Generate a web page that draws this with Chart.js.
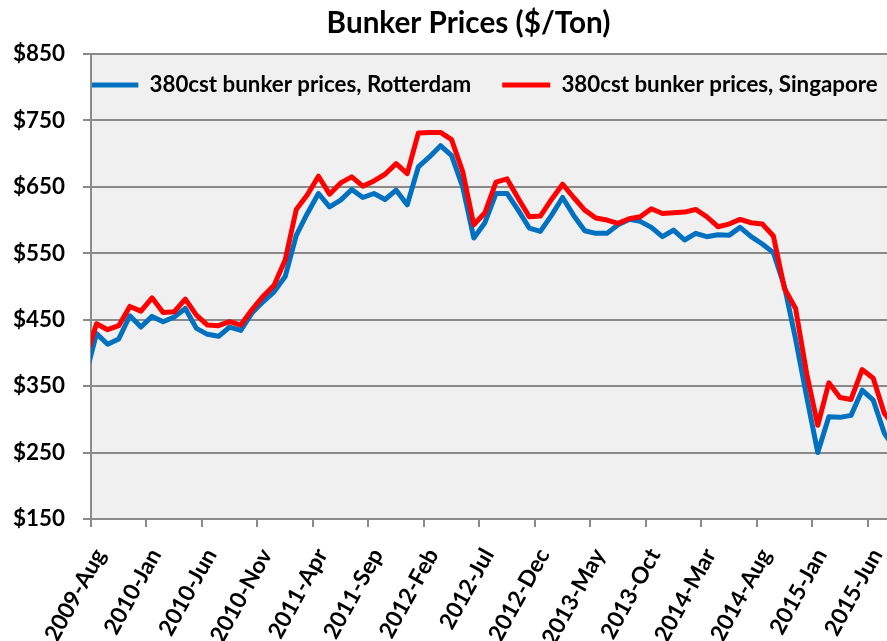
<!DOCTYPE html>
<html>
<head>
<meta charset="utf-8">
<script src="https://cdn.jsdelivr.net/npm/chart.js@4/dist/chart.umd.min.js"></script>
<style>
html,body{margin:0;padding:0;background:#fff;overflow:hidden;}
canvas{display:block;}
</style>
</head>
<body>
<canvas id="c" width="887" height="641"></canvas>
<script>
// ---------------- data ----------------
const chartTitle = 'Bunker Prices ($/Ton)';
const seriesNames = ['380cst bunker prices, Rotterdam', '380cst bunker prices, Singapore'];

// monthly observations (mid-month); the first month lies just before the axis start
const months = [
  '2009-Jul','2009-Aug','2009-Sep','2009-Oct','2009-Nov','2009-Dec',
  '2010-Jan','2010-Feb','2010-Mar','2010-Apr','2010-May','2010-Jun','2010-Jul','2010-Aug','2010-Sep','2010-Oct','2010-Nov','2010-Dec',
  '2011-Jan','2011-Feb','2011-Mar','2011-Apr','2011-May','2011-Jun','2011-Jul','2011-Aug','2011-Sep','2011-Oct','2011-Nov','2011-Dec',
  '2012-Jan','2012-Feb','2012-Mar','2012-Apr','2012-May','2012-Jun','2012-Jul','2012-Aug','2012-Sep','2012-Oct','2012-Nov','2012-Dec',
  '2013-Jan','2013-Feb','2013-Mar','2013-Apr','2013-May','2013-Jun','2013-Jul','2013-Aug','2013-Sep','2013-Oct','2013-Nov','2013-Dec',
  '2014-Jan','2014-Feb','2014-Mar','2014-Apr','2014-May','2014-Jun','2014-Jul','2014-Aug','2014-Sep','2014-Oct','2014-Nov','2014-Dec',
  '2015-Jan','2015-Feb','2015-Mar','2015-Apr','2015-May','2015-Jun','2015-Jul','2015-Aug'
];
const axisStartMonth = '2009-Aug';

const rotterdam = [
  365, 429, 413, 421, 456, 439,
  455, 447, 454, 467, 437, 428, 425, 439, 434, 460, 477, 492,
  515, 577, 610, 640, 620, 630, 646, 634, 640, 631, 645, 623,
  680, 695, 712, 697, 650, 573, 596, 640, 640, 615, 588, 583,
  607, 634, 607, 584, 580, 580, 593, 601, 598, 589, 575, 585,
  570, 580, 575, 578, 577, 589, 575, 564, 551, 500, 421, 334,
  250, 304, 303, 306, 344, 329, 279, 255
];
const singapore = [
  392, 444, 435, 441, 470, 463,
  483, 461, 462, 481, 457, 442, 441, 447, 442, 465, 485, 502,
  540, 616, 638, 666, 639, 656, 665, 651, 659, 669, 685, 670,
  731, 732, 732, 721, 673, 593, 611, 657, 662, 633, 605, 606,
  631, 654, 634, 615, 603, 600, 595, 602, 605, 617, 610, 611,
  612, 616, 605, 590, 594, 601, 596, 594, 576, 497, 467, 369,
  291, 355, 333, 330, 375, 362, 309, 288
];
const yTickValues = [150, 250, 350, 450, 550, 650, 750, 850];
const xTickEvery = 5; // label every 5 months

// ---------------- styling ----------------
const FAMILY = 'Lato, "Open Sans", "DejaVu Sans", sans-serif';
const BLUE = '#0070C0';
const RED = '#FF0000';
const GRID = '#8a8a8a';
const PLOT_BG = '#f0f0f0';

function fitSize(text, target) {
  const ctx = document.createElement('canvas').getContext('2d');
  ctx.font = 'bold 100px ' + FAMILY;
  return 100 * target / ctx.measureText(text).width;
}
const titleSize = fitSize(chartTitle, 284);
const legendSize = fitSize(seriesNames[0], 322);
const yTickSize = fitSize('$850', 52);
const xTickSize = fitSize('2012-Jul', 88);

const titleLH = titleSize * 1.2;
const titleTop = 23 - titleLH / 2;
const titleBottom = 54 - titleLH - titleTop;

const startIdx = months.indexOf(axisStartMonth);
const toPoints = arr => arr.map((v, i) => ({ x: i - startIdx + 0.5, y: v }));
const X_MAX = 71.74;

const bgPlugin = {
  id: 'plotBg',
  beforeDraw(chart) {
    const { ctx, chartArea: a } = chart;
    ctx.save();
    ctx.fillStyle = '#ffffff';
    ctx.fillRect(0, 0, chart.width, chart.height);
    ctx.fillStyle = PLOT_BG;
    ctx.fillRect(a.left, a.top, a.right - a.left, a.bottom - a.top);
    ctx.restore();
  }
};

const placePlugin = {
  id: 'place',
  afterLayout(chart) {
    const a = chart.chartArea;
    const t = chart.titleBlock;
    if (t) { t.left = 2 * 468.5 - t.right; }
    const lg = chart.legend;
    if (lg) {
      const pad = lg.options.labels.padding;
      const centerY = a.top + 31;
      lg.right = chart.width + 60;
      lg.left = 2 * 484 - lg.right;
      lg.top = centerY - pad - legendSize / 2;
      lg.bottom = lg.top + legendSize + 2 * pad;
    }
  }
};

new Chart(document.getElementById('c'), {
  type: 'line',
  data: {
    datasets: [
      {
        label: seriesNames[0], data: toPoints(rotterdam),
        borderColor: BLUE, backgroundColor: BLUE, borderWidth: 5,
        pointRadius: 0, pointHoverRadius: 0, tension: 0,
        borderJoinStyle: 'round', borderCapStyle: 'round', order: 1
      },
      {
        label: seriesNames[1], data: toPoints(singapore),
        borderColor: RED, backgroundColor: RED, borderWidth: 5,
        pointRadius: 0, pointHoverRadius: 0, tension: 0,
        borderJoinStyle: 'round', borderCapStyle: 'round', order: 0
      }
    ]
  },
  options: {
    responsive: false,
    animation: false,
    events: [],
    layout: { autoPadding: false, padding: 0 },
    plugins: {
      tooltip: { enabled: false },
      title: {
        display: true, text: chartTitle, color: '#000',
        font: { family: FAMILY, weight: 'bold', size: titleSize, lineHeight: 1.2 },
        padding: { top: titleTop, bottom: titleBottom }
      },
      legend: {
        display: true, position: 'top', align: 'center', maxHeight: 0.01,
        labels: {
          usePointStyle: true, pointStyle: 'line', pointStyleWidth: 48,
          padding: 31, color: '#000',
          font: { family: FAMILY, weight: 'bold', size: legendSize },
          sort: (a, b) => a.datasetIndex - b.datasetIndex
        }
      }
    },
    scales: {
      x: {
        type: 'linear',
        min: 0,
        max: X_MAX,
        afterFit(scale) {
          scale.height = 122;
          scale.paddingLeft = 0;
          scale.paddingRight = 0;
        },
        afterBuildTicks(scale) {
          const ticks = [];
          for (let v = 0; v <= X_MAX; v += xTickEvery) ticks.push({ value: v });
          scale.ticks = ticks;
        },
        ticks: {
          autoSkip: false,
          minRotation: 61, maxRotation: 61,
          padding: 17, labelOffset: 9,
          color: '#000',
          font: { family: FAMILY, weight: 'bold', size: xTickSize },
          callback: v => months[v + startIdx]
        },
        grid: { display: true, drawOnChartArea: false, drawTicks: true, tickLength: 8, color: GRID, lineWidth: 2 },
        border: { display: true, color: GRID, width: 2 }
      },
      y: {
        min: yTickValues[0],
        max: yTickValues[yTickValues.length - 1],
        afterFit(scale) {
          scale.width = 91;
          scale.paddingTop = 0;
          scale.paddingBottom = 0;
        },
        afterBuildTicks(scale) { scale.ticks = yTickValues.map(v => ({ value: v })); },
        ticks: {
          padding: 18, color: '#000',
          font: { family: FAMILY, weight: 'bold', size: yTickSize },
          callback: v => '$' + v
        },
        grid: { color: GRID, lineWidth: 2, drawTicks: true, tickLength: 8 },
        border: { display: true, color: GRID, width: 2 }
      }
    }
  },
  plugins: [bgPlugin, placePlugin]
});
</script>
</body>
</html>
